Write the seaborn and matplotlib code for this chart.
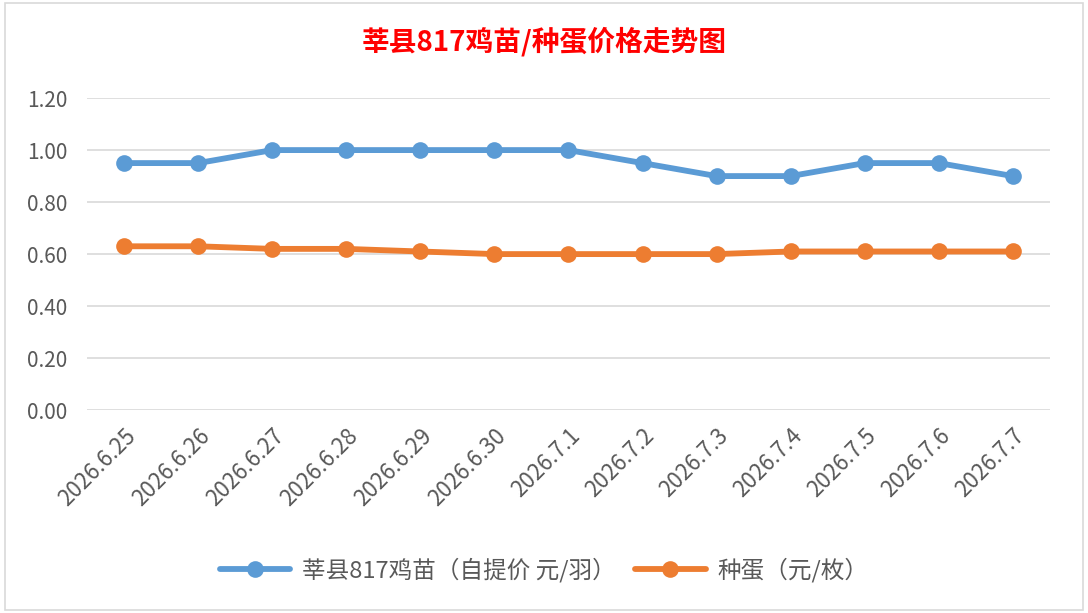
import matplotlib
matplotlib.use("Agg")
import matplotlib.pyplot as plt
import seaborn as sns
import pandas as pd
from matplotlib.patches import Rectangle
from matplotlib.lines import Line2D

dates = ["2026.6.25", "2026.6.26", "2026.6.27", "2026.6.28", "2026.6.29", "2026.6.30",
         "2026.7.1", "2026.7.2", "2026.7.3", "2026.7.4", "2026.7.5", "2026.7.6", "2026.7.7"]
chick = [0.95, 0.95, 1.00, 1.00, 1.00, 1.00, 1.00, 0.95, 0.90, 0.90, 0.95, 0.95, 0.90]
egg = [0.63, 0.63, 0.62, 0.62, 0.61, 0.60, 0.60, 0.60, 0.60, 0.61, 0.61, 0.61, 0.61]
names = ["莘县817鸡苗（自提价 元/羽）", "种蛋（元/枚）"]
colors = ["#5B9BD5", "#ED7D31"]

sns.set_style("white")
plt.rcParams['font.family'] = ['Noto Sans CJK SC', 'DejaVu Sans']

fig = plt.figure(figsize=(10.88, 6.13), dpi=100)
ax = fig.add_axes([0.080, 0.331, 0.885, 0.509])

pos = list(range(len(dates)))
df = pd.DataFrame({"pos": pos * 2, "price": chick + egg,
                   "series": [names[0]] * len(pos) + [names[1]] * len(pos)})
sns.lineplot(data=df, x="pos", y="price", hue="series", palette=colors,
             marker="o", markersize=12, markeredgewidth=0, linewidth=4.2,
             legend=False, ax=ax)

ax.set_xlim(-0.5, len(dates) - 0.5)
ax.set_ylim(0, 1.2)
ax.set_yticks([0, 0.2, 0.4, 0.6, 0.8, 1.0, 1.2])
ax.set_yticklabels([f"{v:.2f}" for v in ax.get_yticks()])
ax.set_xticks(pos)
ax.set_xticklabels(dates, rotation=45, ha="right", rotation_mode="anchor")
ax.tick_params(axis="both", colors="#595959", labelsize=15, length=0)
ax.tick_params(axis="x", pad=10, labelsize=16)
ax.tick_params(axis="y", pad=14)
ax.yaxis.grid(True, color="#D9D9D9", linewidth=1.2)
ax.set_axisbelow(True)
for s in ax.spines.values():
    s.set_visible(False)
ax.set_xlabel("")
ax.set_ylabel("")

fig.text(0.5, 0.932, "莘县817鸡苗/种蛋价格走势图", color="red", fontsize=20,
         fontweight="bold", ha="center", va="center")

handles = [Line2D([0], [0], color=c, linewidth=4.2, marker="o", markersize=12,
                  markeredgewidth=0) for c in colors]
fig.legend(handles, names, loc="center", bbox_to_anchor=(0.5, 0.07), ncol=2,
           frameon=False, fontsize=17, handlelength=3.0, handletextpad=0.5,
           columnspacing=0.8, labelcolor="#595959")

fig.patches.append(Rectangle((0.005, 0.005), 0.99, 0.99, transform=fig.transFigure,
                             fill=False, edgecolor="#D9D9D9", linewidth=1.2))

fig.savefig("out.png", dpi=100)
